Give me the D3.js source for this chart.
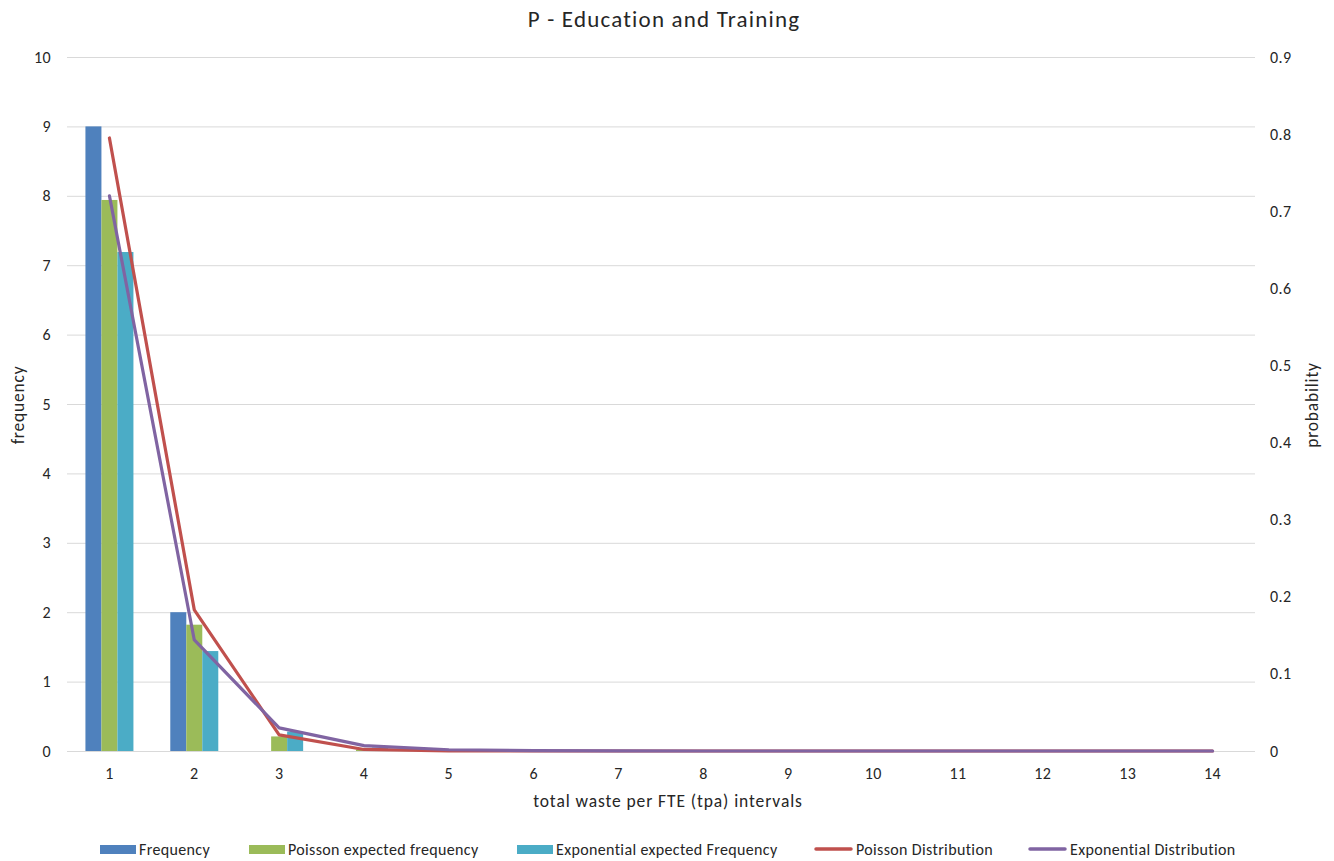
<!DOCTYPE html>
<html><head><meta charset="utf-8">
<script src="https://cdn.jsdelivr.net/npm/d3@7"></script>
<style>body{margin:0;background:#fff}text{font-family:Carlito,"Open Sans","Liberation Sans",sans-serif;fill:#262626}</style>
</head><body><svg id="c" width="1334" height="861"></svg>
<script>
const categories = [1,2,3,4,5,6,7,8,9,10,11,12,13,14];
const frequency = [9,2,0,0,0,0,0,0,0,0,0,0,0,0];
const poissonExpFreq = [7.94,1.82,0.21,0.02,0,0,0,0,0,0,0,0,0,0];
const expoExpFreq = [7.19,1.44,0.28,0.05,0.01,0,0,0,0,0,0,0,0,0];
const poissonDist = [0.795,0.183,0.021,0.002,0.0002,0,0,0,0,0,0,0,0,0];
const expoDist = [0.72,0.144,0.030,0.007,0.0016,0.0004,0.0001,0,0,0,0,0,0,0];
const leftTicks = [0,1,2,3,4,5,6,7,8,9,10];
const rightTicks = [0,0.1,0.2,0.3,0.4,0.5,0.6,0.7,0.8,0.9];

const svg = d3.select("#c");
const L=67,R=1255,T=57,B=751;
const x = d3.scaleBand().domain(categories).range([L,R]);
const yL = d3.scaleLinear().domain([0,10]).range([B,T]);
const yR = d3.scaleLinear().domain([0,0.9]).range([B,T]);
const groupW = 48;
const xs = d3.scaleBand().domain([0,1,2]).range([0,groupW]);
const colors = ["#4F81BD","#9BBB59","#4BACC6"];
const lineColors = ["#C0504D","#8064A2"];

// gridlines
svg.append("g").selectAll("line").data(leftTicks).join("line")
  .attr("x1",L).attr("x2",R).attr("y1",d=>yL(d)+0.5).attr("y2",d=>yL(d)+0.5)
  .attr("stroke","#d9d9d9").attr("stroke-width",1);

// axes text
svg.append("g").selectAll("text").data(leftTicks).join("text")
  .attr("x",51).attr("y",d=>yL(d)).attr("dy","0.35em").attr("text-anchor","end")
  .attr("font-size",16).attr("letter-spacing",0.4).text(d=>d);
svg.append("g").selectAll("text").data(rightTicks).join("text")
  .attr("x",1270).attr("y",d=>yR(d)).attr("dy","0.35em").attr("text-anchor","start")
  .attr("font-size",16).attr("letter-spacing",0.4).text(d=>d===0?"0":d3.format(".1f")(d));
svg.append("g").selectAll("text").data(categories).join("text")
  .attr("x",d=>x(d)+x.bandwidth()/2).attr("y",773).attr("dy","0.35em").attr("text-anchor","middle")
  .attr("font-size",16).attr("letter-spacing",0.4).text(d=>d);

// bars
const series=[frequency,poissonExpFreq,expoExpFreq];
series.forEach((s,i)=>{
  svg.append("g").selectAll("rect").data(categories).join("rect")
    .attr("x",(d,j)=>x(d)+x.bandwidth()/2-groupW/2+xs(i))
    .attr("width",xs.bandwidth())
    .attr("y",(d,j)=>yL(s[j]))
    .attr("height",(d,j)=>B-yL(s[j]))
    .attr("fill",colors[i]);
});

// lines
[poissonDist,expoDist].forEach((s,i)=>{
  const line=d3.line().x((d,j)=>x(categories[j])+x.bandwidth()/2).y(d=>yR(d));
  svg.append("path").datum(s).attr("d",line).attr("fill","none")
    .attr("stroke",lineColors[i]).attr("stroke-width",3.2).attr("stroke-linejoin","round").attr("stroke-linecap","round");
});

// titles
svg.append("text").attr("x",664).attr("y",19).attr("dy","0.35em").attr("text-anchor","middle")
  .attr("font-size",23).attr("letter-spacing",1.2).text("P - Education and Training");
svg.append("text").attr("x",668).attr("y",801).attr("dy","0.35em").attr("text-anchor","middle")
  .attr("font-size",17.5).attr("letter-spacing",0.9).text("total waste per FTE (tpa) intervals");
svg.append("text").attr("transform","translate(18,405) rotate(-90)").attr("dy","0.35em").attr("text-anchor","middle")
  .attr("font-size",17.5).attr("letter-spacing",0.8).text("frequency");
svg.append("text").attr("transform","translate(1312,405) rotate(-90)").attr("dy","0.35em").attr("text-anchor","middle")
  .attr("font-size",17.5).attr("letter-spacing",0.8).text("probability");

// legend
const legend=[
  {name:"Frequency",type:"bar",c:colors[0],x:100},
  {name:"Poisson expected frequency",type:"bar",c:colors[1],x:249},
  {name:"Exponential expected Frequency",type:"bar",c:colors[2],x:517},
  {name:"Poisson Distribution",type:"line",c:lineColors[0],x:814},
  {name:"Exponential Distribution",type:"line",c:lineColors[1],x:1028}
];
const lg=svg.append("g");
legend.forEach(d=>{
  if(d.type==="bar") lg.append("rect").attr("x",d.x).attr("y",845).attr("width",36).attr("height",9).attr("fill",d.c);
  else lg.append("line").attr("x1",d.x+2).attr("x2",d.x+37).attr("y1",849).attr("y2",849).attr("stroke",d.c).attr("stroke-width",3.5).attr("stroke-linecap","round");
  lg.append("text").attr("x",d.type==="bar"?d.x+39:d.x+42).attr("y",849).attr("dy","0.35em").attr("font-size",16).attr("letter-spacing",0.35).text(d.name);
});
</script></body></html>
